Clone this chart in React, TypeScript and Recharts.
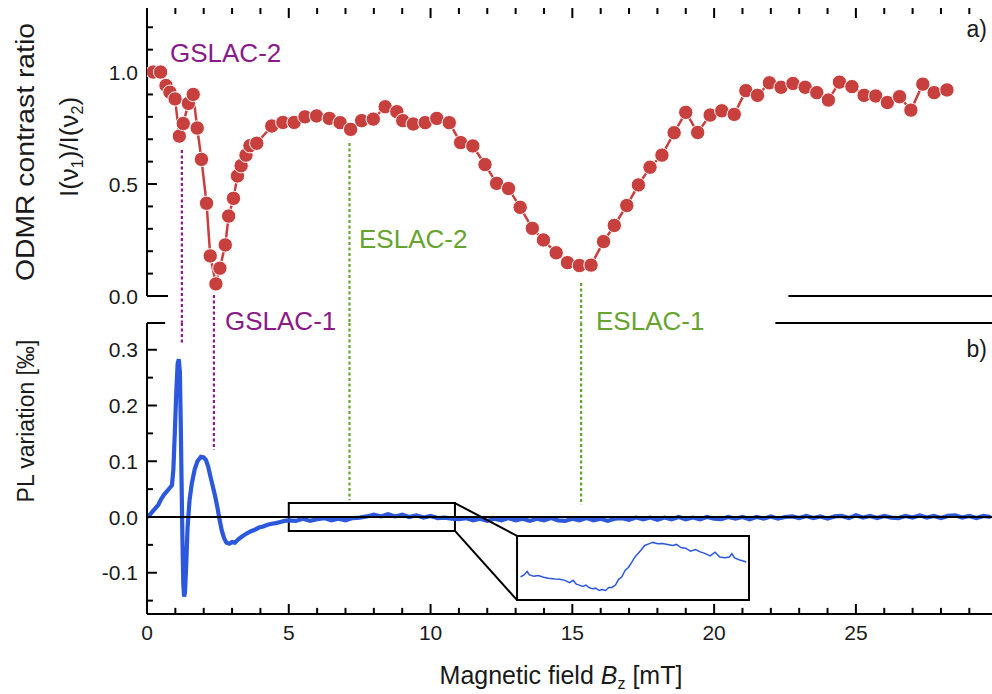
import React from 'react';
import { LineChart, Line, XAxis, YAxis, ReferenceLine, ReferenceArea } from 'recharts';

const FONT = '"Liberation Sans", Arial, Helvetica, sans-serif';
const RED = '#c8403e';
const BLUE = '#2b58dc';
const PURPLE = '#8a1a8a';
const GREEN = '#67a32f';
const INK = '#1a1a1a';

// ---------- panel a) ODMR contrast ratio ----------
const odmrField = [0.22, 0.48, 0.67, 0.81, 0.99, 1.14, 1.28, 1.46, 1.63, 1.77,
  1.92, 2.10, 2.23, 2.43, 2.57, 2.76, 2.88, 3.05, 3.19, 3.32,
  3.49, 3.63, 3.87, 4.40, 4.79, 5.19, 5.57, 5.98, 6.43, 6.81,
  7.18, 7.57, 7.98, 8.40, 8.81, 9.02, 9.39, 9.81, 10.22, 10.66,
  11.06, 11.49, 11.92, 12.33, 12.75, 13.16, 13.59, 13.98, 14.43, 14.83,
  15.25, 15.66, 16.10, 16.48, 16.92, 17.33, 17.74, 18.16, 18.59, 19.00,
  19.42, 19.86, 20.27, 20.71, 21.12, 21.53, 21.95, 22.36, 22.78, 23.21,
  23.62, 24.03, 24.42, 24.86, 25.29, 25.70, 26.11, 26.54, 26.94, 27.36,
  27.76, 28.21];
const odmrRatio = [1.0, 1.0, 0.94, 0.91, 0.88, 0.714, 0.77, 0.86, 0.90, 0.75,
  0.61, 0.414, 0.179, 0.054, 0.124, 0.228, 0.357, 0.436, 0.536, 0.582,
  0.629, 0.671, 0.682, 0.759, 0.775, 0.775, 0.80, 0.804, 0.793, 0.774,
  0.744, 0.783, 0.79, 0.845, 0.823, 0.783, 0.768, 0.774, 0.793, 0.774,
  0.685, 0.670, 0.587, 0.503, 0.48, 0.396, 0.302, 0.25, 0.193, 0.149,
  0.136, 0.138, 0.243, 0.315, 0.404, 0.496, 0.575, 0.629, 0.729, 0.82,
  0.73, 0.808, 0.827, 0.811, 0.917, 0.896, 0.952, 0.932, 0.949, 0.932,
  0.908, 0.875, 0.955, 0.935, 0.896, 0.893, 0.864, 0.89, 0.83, 0.946,
  0.908, 0.92];

// ---------- panel b) PL variation ----------
const plField = [0, 0.1, 0.2, 0.3, 0.4, 0.5, 0.6, 0.7, 0.8, 0.88,
  0.93, 0.98, 1.03, 1.08, 1.12, 1.16, 1.19, 1.22, 1.25, 1.28,
  1.31, 1.34, 1.38, 1.43, 1.5, 1.58, 1.68, 1.78, 1.9, 2.0,
  2.08, 2.16, 2.24, 2.32, 2.4, 2.48, 2.56, 2.64, 2.72, 2.8,
  2.9, 3.0, 3.1, 3.2, 3.35, 3.5, 3.65, 3.8, 3.95, 4.1,
  4.25, 4.4, 4.55, 4.7, 4.85, 5.0, 5.25, 5.5, 5.75, 6.0,
  6.25, 6.5, 6.75, 7.0, 7.25, 7.5, 7.75, 8.0, 8.25, 8.5,
  8.75, 9.0, 9.25, 9.5, 9.75, 10.0, 10.25, 10.5, 10.75, 11.0,
  11.25, 11.5, 11.75, 12.0, 12.25, 12.5, 12.75, 13.0, 13.25, 13.5,
  13.75, 14.0, 14.25, 14.5, 14.75, 15.0, 15.25, 15.5, 15.75, 16.0,
  16.25, 16.5, 16.75, 17.0, 17.25, 17.5, 17.75, 18.0, 18.25, 18.5,
  18.75, 19.0, 19.25, 19.5, 19.75, 20.0, 20.25, 20.5, 20.75, 21.0,
  21.25, 21.5, 21.75, 22.0, 22.25, 22.5, 22.75, 23.0, 23.25, 23.5,
  23.75, 24.0, 24.25, 24.5, 24.75, 25.0, 25.25, 25.5, 25.75, 26.0,
  26.25, 26.5, 26.75, 27.0, 27.25, 27.5, 27.75, 28.0, 28.25, 28.5,
  28.75, 29.0, 29.25, 29.5, 29.75];
const plValue = [0, 0.004, 0.01, 0.016, 0.022, 0.032, 0.04, 0.046, 0.052, 0.057,
  0.085, 0.15, 0.22, 0.275, 0.283, 0.26, 0.17, 0.06, -0.04, -0.12,
  -0.143, -0.135, -0.09, -0.02, 0.03, 0.06, 0.085, 0.1, 0.108, 0.107,
  0.102, 0.09, 0.072, 0.055, 0.038, 0.018, -0.005, -0.025, -0.038, -0.046,
  -0.048, -0.045, -0.046, -0.041, -0.035, -0.03, -0.026, -0.023, -0.019, -0.017,
  -0.014, -0.012, -0.011, -0.009, -0.007, -0.006, -0.007, -0.003, -0.007, -0.004,
  -0.002, -0.006, -0.003, -0.006, -0.002, -0.001, 0.001, 0.004, 0.001, 0.005,
  0.001, 0.004, 0.0, 0.003, -0.001, 0.002, -0.002, -0.001, -0.003, -0.004,
  -0.002, -0.006, -0.003, -0.007, -0.003, -0.006, -0.002, -0.006, -0.003, -0.007,
  -0.003, -0.006, -0.002, -0.006, -0.007, -0.003, -0.006, -0.002, -0.006, -0.003,
  -0.007, -0.003, -0.002, -0.005, -0.001, -0.004, -0.001, -0.005, -0.001, -0.004,
  0.0, -0.004, -0.001, -0.004, 0.0, -0.003, -0.004, 0.0, -0.003, 0.0,
  -0.004, 0.0, -0.003, 0.001, -0.003, 0.0, 0.001, -0.002, 0.002, -0.002,
  0.001, -0.003, 0.001, 0.002, -0.002, 0.003, -0.001, 0.002, -0.002, 0.002,
  -0.001, -0.002, 0.002, -0.001, 0.003, -0.001, 0.002, -0.002, 0.002, 0.003,
  -0.001, 0.002, -0.002, 0.002, 0.0];

// ---------- inset (magnified 5 - 10.9 mT) ----------
const insetField = [5.04, 5.13, 5.21, 5.27, 5.38, 5.50, 5.63, 5.76, 5.92, 6.05,
  6.18, 6.30, 6.39, 6.47, 6.55, 6.64, 6.72, 6.80, 6.89, 6.97,
  7.06, 7.14, 7.22, 7.31, 7.39, 7.48, 7.56, 7.64, 7.73, 7.81,
  7.90, 7.98, 8.06, 8.15, 8.23, 8.32, 8.44, 8.57, 8.69, 8.82,
  8.95, 9.05, 9.16, 9.28, 9.41, 9.53, 9.66, 9.79, 9.91, 10.04,
  10.16, 10.29, 10.41, 10.47, 10.54, 10.67, 10.75, 10.84];
const insetValue = [-0.0035, -0.0029, -0.0019, -0.0029, -0.0033, -0.0031, -0.0036, -0.0039, -0.0041, -0.0042,
  -0.0045, -0.0052, -0.0045, -0.0056, -0.0059, -0.0063, -0.0059, -0.0066, -0.0070, -0.0068,
  -0.0075, -0.0072, -0.0075, -0.0066, -0.0066, -0.0059, -0.0042, -0.0035, -0.0015, -0.0007,
  0.0009, 0.0024, 0.0034, 0.0046, 0.0058, 0.0062, 0.0067, 0.0063, 0.0064, 0.0061,
  0.0058, 0.0061, 0.0052, 0.0050, 0.0041, 0.0046, 0.0039, 0.0034, 0.0027, 0.0038,
  0.0024, 0.0022, 0.0024, 0.0034, 0.0021, 0.0015, 0.0013, 0.0009];

// ---------- axes ----------
const fieldDomain = [0, 29.8];
const fieldTicks = [0, 1, 2, 3, 4, 5, 6, 7, 8, 9, 10, 11, 12, 13, 14, 15, 16, 17, 18, 19, 20, 21, 22, 23, 24, 25, 26, 27, 28, 29];
const fieldLabels = [0, 5, 10, 15, 20, 25];
const odmrDomain = [0, 1.286];
const odmrTicks = [0, 0.1, 0.2, 0.3, 0.4, 0.5, 0.6, 0.7, 0.8, 0.9, 1.0, 1.1, 1.2];
const odmrLabels = [0, 0.5, 1.0];
const plDomain = [-0.174, 0.348];
const plTicks = [-0.15, -0.1, -0.05, 0, 0.05, 0.1, 0.15, 0.2, 0.25, 0.3];
const plLabels = [-0.1, 0, 0.1, 0.2, 0.3];

// inward tick lengths, in each axis' data units [major, minor]
const fieldTickLen = [0.35, 0.21];
const odmrTickLen = [0.045, 0.027];
const plTickLen = [0.018, 0.011];

// ---------- annotations (level-anticrossing markers) ----------
const markerNames = ['GSLAC-2', 'GSLAC-1', 'ESLAC-2', 'ESLAC-1'];
const markerField = [1.23, 2.36, 7.14, 15.31];
const markerTopFrom = [0.652, 0.004, 0.683, 0.058];
const markerBottomTo = [0.312, 0.12, 0.03, 0.022];
const markerColors = [PURPLE, PURPLE, GREEN, GREEN];
const gapBelowTop = -0.12; // extends the dotted lines through the gap between panels

const zoomField = [5.0, 10.86];
const zoomValue = [-0.025, 0.025];
const insetBoxField = [13.05, 21.23];
const insetBoxValue = [-0.149, -0.034];
const insetDomainY = [-0.010, 0.008];

const topStubs = [[0, 0.74], [22.62, 29.8]];
const bottomStubs = [[0, 0.64], [22.16, 29.8]];

const odmrData = odmrField.map((x, i) => ({ x, y: odmrRatio[i] }));
const plData = plField.map((x, i) => ({ x, y: plValue[i] }));
const insetData = insetField.map((x, i) => ({ x, y: insetValue[i] }));

const has = (arr: number[], v: number) => arr.some((a) => Math.abs(a - v) < 1e-9);

const LeftLabel = (props: any) => {
  const { x, y, payload, labels } = props;
  const v = payload.value;
  if (!has(labels, v)) return <g />;
  return (
    <text x={x} y={y} dy="0.36em" textAnchor="end" fontSize={21} fontFamily={FONT} fill={INK}>
      {v.toFixed(1)}
    </text>
  );
};

const BottomLabel = (props: any) => {
  const { x, y, payload } = props;
  if (!has(fieldLabels, payload.value)) return <g />;
  return (
    <text x={x} y={y} dy={26} textAnchor="middle" fontSize={21} fontFamily={FONT} fill={INK}>
      {payload.value}
    </text>
  );
};

const axisLine = { stroke: '#000', strokeWidth: 2 };

// inward tick marks drawn as short reference segments through the chart's scales
const yTickMarks = (ticks: number[], labels: number[], len: number[], id: string) =>
  ticks.map((v) => (
    <ReferenceLine key={id + v} segment={[{ x: fieldDomain[0], y: v }, { x: has(labels, v) ? fieldTickLen[0] : fieldTickLen[1], y: v }]}
      stroke="#000" strokeWidth={2} ifOverflow="visible" />
  ));
const xTickMarks = (base: number, dir: number, len: number[], id: string) =>
  fieldTicks.map((f) => (
    <ReferenceLine key={id + f} segment={[{ x: f, y: base }, { x: f, y: base + dir * (has(fieldLabels, f) ? len[0] : len[1]) }]}
      stroke="#000" strokeWidth={2} ifOverflow="visible" />
  ));

export default function App() {
  return (
    <div style={{ position: 'absolute', left: 0, top: 0, width: 992, height: 694, background: '#fff', fontFamily: FONT }}>
      {/* panel a */}
      <div style={{ position: 'absolute', left: 0, top: 0 }}>
        <LineChart width={992} height={323} margin={{ top: 8, right: 0, bottom: 27, left: 0 }}>
          <XAxis type="number" dataKey="x" orientation="top" domain={fieldDomain} ticks={fieldTicks}
            interval={0} allowDataOverflow height={0} tickSize={0} tickMargin={0}
            axisLine={axisLine} tickLine={false} tick={false} />
          <YAxis type="number" dataKey="y" domain={odmrDomain} ticks={odmrTicks} interval={0}
            allowDataOverflow width={147} tickSize={0} tickMargin={9}
            axisLine={axisLine} tickLine={false} tick={<LeftLabel labels={odmrLabels} />} />
          {yTickMarks(odmrTicks, odmrLabels, odmrTickLen, 'ay')}
          {xTickMarks(odmrDomain[1], -1, odmrTickLen, 'ax')}
          {topStubs.map((s, i) => (
            <ReferenceLine key={'ts' + i} segment={[{ x: s[0], y: 0 }, { x: s[1], y: 0 }]}
              stroke="#000" strokeWidth={2} ifOverflow="visible" />
          ))}
          {markerField.map((f, i) => (
            <ReferenceLine key={'tm' + i} segment={[{ x: f, y: markerTopFrom[i] }, { x: f, y: gapBelowTop }]}
              stroke={markerColors[i]} strokeWidth={2.2} strokeDasharray="3 2.5" ifOverflow="visible" />
          ))}
          <Line data={odmrData} dataKey="y" type="linear" stroke={RED} strokeWidth={2.5}
            dot={{ r: 7.2, fill: RED, stroke: '#fff', strokeWidth: 1 }} activeDot={false}
            isAnimationActive={false} />
        </LineChart>
      </div>

      {/* panel b */}
      <div style={{ position: 'absolute', left: 0, top: 300 }}>
        <LineChart width={992} height={394} margin={{ top: 23, right: 0, bottom: 0, left: 0 }}>
          <XAxis type="number" dataKey="x" domain={fieldDomain} ticks={fieldTicks} interval={0}
            allowDataOverflow height={80} tickSize={0} tickMargin={0}
            axisLine={axisLine} tickLine={false} tick={<BottomLabel />} />
          <YAxis type="number" dataKey="y" domain={plDomain} ticks={plTicks} interval={0}
            allowDataOverflow width={147} tickSize={0} tickMargin={9}
            axisLine={axisLine} tickLine={false} tick={<LeftLabel labels={plLabels} />} />
          {yTickMarks(plTicks, plLabels, plTickLen, 'by')}
          {xTickMarks(plDomain[0], 1, plTickLen, 'bx')}
          {bottomStubs.map((s, i) => (
            <ReferenceLine key={'bs' + i} segment={[{ x: s[0], y: plDomain[1] }, { x: s[1], y: plDomain[1] }]}
              stroke="#000" strokeWidth={2} ifOverflow="visible" />
          ))}
          {markerField.map((f, i) => (
            <ReferenceLine key={'bm' + i} segment={[{ x: f, y: plDomain[1] }, { x: f, y: markerBottomTo[i] }]}
              stroke={markerColors[i]} strokeWidth={2.2} strokeDasharray="3 2.5" ifOverflow="visible" />
          ))}
          <ReferenceArea x1={insetBoxField[0]} x2={insetBoxField[1]} y1={insetBoxValue[0]} y2={insetBoxValue[1]}
            fill="#fff" fillOpacity={1} stroke="#000" strokeWidth={2} ifOverflow="visible" />
          <Line data={plData} dataKey="y" type="linear" stroke={BLUE} strokeWidth={4.2} dot={false}
            activeDot={false} isAnimationActive={false} />
          <ReferenceLine y={0} stroke="#000" strokeWidth={2} ifOverflow="visible" />
          <ReferenceArea x1={zoomField[0]} x2={zoomField[1]} y1={zoomValue[0]} y2={zoomValue[1]}
            fill="none" stroke="#000" strokeWidth={2} ifOverflow="visible" />
          <ReferenceLine segment={[{ x: zoomField[1], y: zoomValue[1] }, { x: insetBoxField[0], y: insetBoxValue[1] }]}
            stroke="#000" strokeWidth={2} ifOverflow="visible" />
          <ReferenceLine segment={[{ x: zoomField[1], y: zoomValue[0] }, { x: insetBoxField[0], y: insetBoxValue[0] }]}
            stroke="#000" strokeWidth={2} ifOverflow="visible" />
        </LineChart>
      </div>

      {/* inset */}
      <div style={{ position: 'absolute', left: 518, top: 537 }}>
        <LineChart width={230} height={63} margin={{ top: 1, right: 1, bottom: 1, left: 1 }}>
          <XAxis type="number" dataKey="x" domain={zoomField} hide allowDataOverflow />
          <YAxis type="number" dataKey="y" domain={insetDomainY} hide allowDataOverflow />
          <Line data={insetData} dataKey="y" type="linear" stroke={BLUE} strokeWidth={1.5} dot={false}
            activeDot={false} isAnimationActive={false} />
        </LineChart>
      </div>

      {/* text overlay */}
      <svg width={992} height={694} style={{ position: 'absolute', left: 0, top: 0, pointerEvents: 'none' }}
        fontFamily={FONT}>
        <text x={170} y={62} fontSize={26} fill={PURPLE}>{markerNames[0]}</text>
        <text x={225} y={330} fontSize={26} fill={PURPLE}>{markerNames[1]}</text>
        <text x={359} y={248} fontSize={26} fill={GREEN}>{markerNames[2]}</text>
        <text x={596} y={330} fontSize={26} fill={GREEN}>{markerNames[3]}</text>
        <text x={987} y={37} fontSize={23} textAnchor="end" fill={INK}>a)</text>
        <text x={987} y={357} fontSize={23} textAnchor="end" fill={INK}>b)</text>
        <text x={561} y={684} fontSize={25} textAnchor="middle" fill={INK}>
          Magnetic field <tspan fontStyle="italic">B</tspan>
          <tspan fontSize={16} dy={5}>z</tspan>
          <tspan dy={-5}> [mT]</tspan>
        </text>
        <text x={34} y={152} fontSize={25} textAnchor="middle" fill={INK} transform="rotate(-90 34 152)"
          textLength={258} lengthAdjust="spacingAndGlyphs">ODMR contrast ratio</text>
        <text x={78} y={147} fontSize={26} textAnchor="middle" fill={INK} transform="rotate(-90 78 147)">
          I(ν<tspan fontSize={16} dy={5}>1</tspan><tspan dy={-5}>)/I(ν</tspan><tspan fontSize={16} dy={5}>2</tspan><tspan dy={-5}>)</tspan>
        </text>
        <text x={34} y={421} fontSize={23} textAnchor="middle" fill={INK} transform="rotate(-90 34 421)">
          PL variation [‰]
        </text>
      </svg>
    </div>
  );
}
